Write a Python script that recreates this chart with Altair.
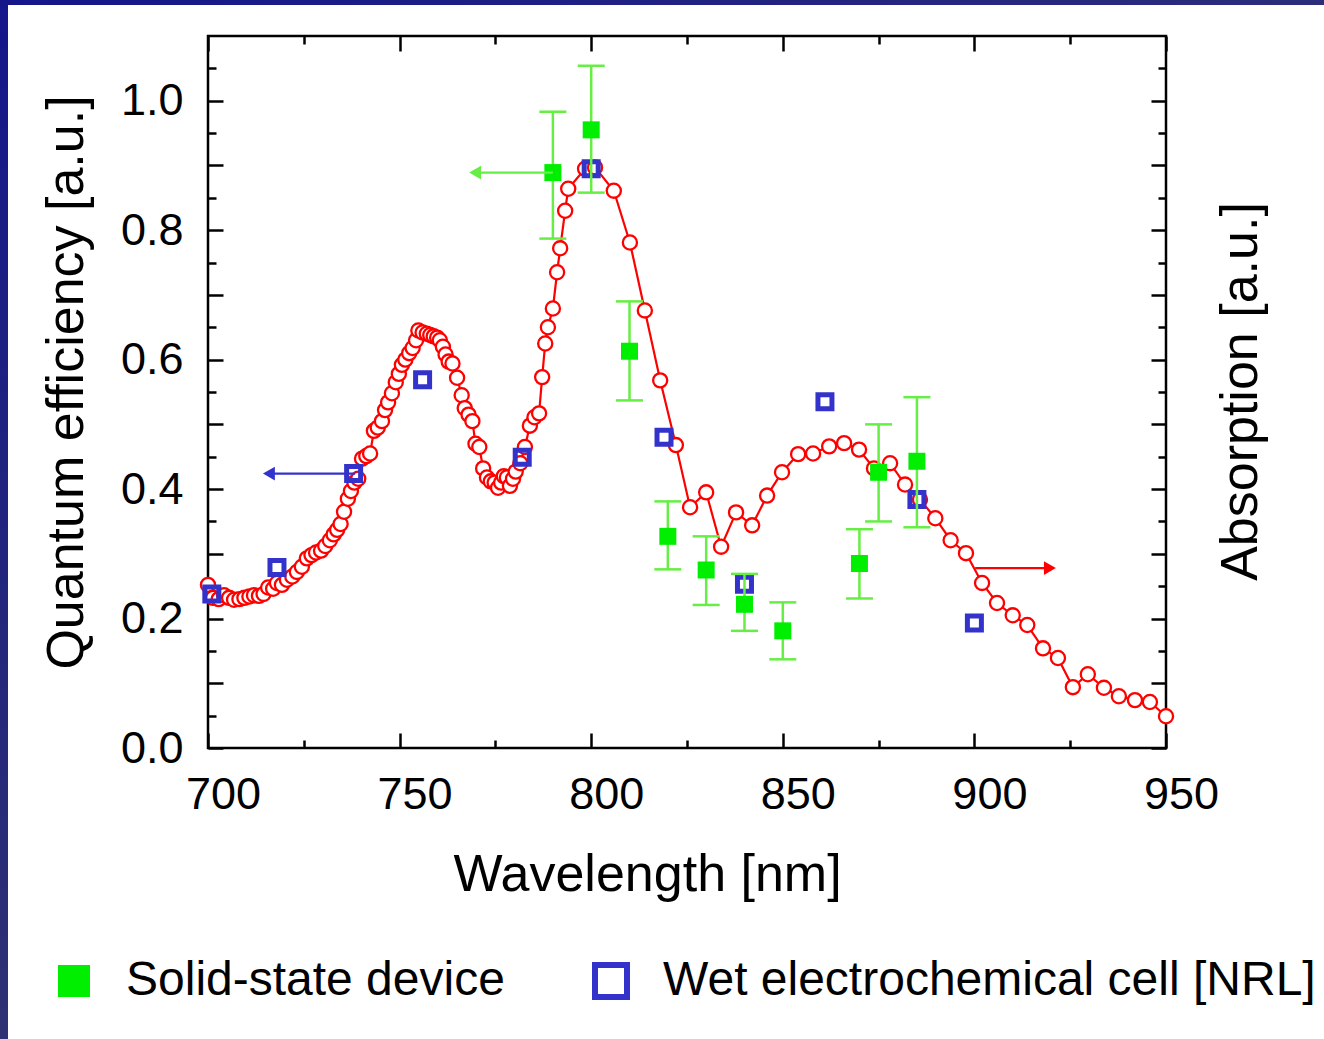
import altair as alt
import pandas as pd

# ---- absorption spectrum (right axis, arbitrary units) ----
abs_nm = [700.0, 701.3, 702.8, 704.2, 705.5, 706.8, 708.2, 709.5, 710.8, 712.0,
          713.3, 714.5, 715.7, 717.0, 718.0, 719.3, 720.6, 722.0, 723.2, 724.5,
          725.8, 727.0, 728.2, 729.5, 730.6, 731.8, 732.8, 733.7, 734.6, 735.5,
          736.5, 737.3, 738.2, 739.2, 740.2, 741.3, 742.3, 743.3, 744.3, 745.4,
          746.2, 747.0, 748.0, 749.0, 749.8, 750.6, 751.5, 752.5, 753.4, 754.3,
          754.9, 756.0, 757.1, 758.0, 758.9, 759.8, 760.5, 761.3, 762.0, 762.8,
          763.8, 765.0, 766.2, 767.0, 768.0, 769.0, 769.8, 770.8, 771.8, 772.8,
          773.8, 774.8, 775.7, 776.5, 777.2, 778.0, 778.8, 779.6, 780.3, 781.5,
          782.7, 784.0, 785.2, 786.4, 787.2, 788.0, 788.7, 790.0, 791.1, 791.9,
          793.2, 794.0, 798.4, 801.0, 805.9, 810.1, 814.0, 818.0, 822.1, 825.8,
          830.0, 833.9, 837.8, 842.0, 845.9, 849.8, 854.0, 857.9, 862.1, 866.0,
          869.9, 873.8, 878.0, 881.9, 885.8, 889.8, 893.8, 897.8, 902.0, 905.9,
          910.0, 913.8, 917.9, 921.8, 925.7, 929.6, 933.8, 937.7, 941.9, 945.8,
          950.0]
abs_val = [0.252, 0.232, 0.230, 0.236, 0.232, 0.229, 0.230, 0.232, 0.234, 0.236,
           0.235, 0.238, 0.248, 0.246, 0.255, 0.252, 0.260, 0.265, 0.272, 0.280,
           0.293, 0.298, 0.302, 0.305, 0.312, 0.321, 0.330, 0.337, 0.346, 0.365,
           0.385, 0.397, 0.410, 0.416, 0.447, 0.451, 0.455, 0.490, 0.495, 0.505,
           0.522, 0.534, 0.548, 0.565, 0.578, 0.592, 0.600, 0.610, 0.618, 0.630,
           0.645, 0.642, 0.640, 0.638, 0.636, 0.634, 0.630, 0.620, 0.608, 0.597,
           0.594, 0.572, 0.545, 0.525, 0.515, 0.505, 0.470, 0.465, 0.432, 0.418,
           0.412, 0.410, 0.402, 0.410, 0.420, 0.418, 0.405, 0.416, 0.427, 0.440,
           0.465, 0.498, 0.511, 0.517, 0.573, 0.625, 0.650, 0.679, 0.735, 0.772,
           0.830, 0.864, 0.895, 0.897, 0.861, 0.781, 0.676, 0.568, 0.468, 0.372,
           0.395, 0.311, 0.364, 0.344, 0.390, 0.426, 0.454, 0.455, 0.466, 0.471,
           0.461, 0.432, 0.440, 0.407, 0.384, 0.355, 0.321, 0.301, 0.255, 0.224,
           0.205, 0.190, 0.154, 0.139, 0.094, 0.114, 0.093, 0.080, 0.074, 0.071,
           0.049]

# ---- solid-state device quantum efficiency with error bars ----
ss_nm = [790, 800, 810, 820, 830, 840, 850, 870, 875, 885]
ss_qe = [0.889, 0.955, 0.613, 0.327, 0.275, 0.222, 0.181, 0.285, 0.426, 0.443]
ss_lo = [0.787, 0.858, 0.537, 0.276, 0.221, 0.181, 0.137, 0.231, 0.350, 0.341]
ss_hi = [0.983, 1.054, 0.690, 0.381, 0.327, 0.269, 0.225, 0.338, 0.500, 0.542]

# ---- wet electrochemical cell quantum efficiency ----
wet_nm = [701, 718, 738, 756, 782, 800, 819, 840, 861, 885, 900]
wet_qe = [0.238, 0.279, 0.424, 0.569, 0.449, 0.895, 0.480, 0.253, 0.535, 0.384, 0.193]

# ---- arrows pointing each series to its axis ----
arrow_from = [790.0, 738.4, 900.2]
arrow_to = [769.7, 715.9, 919.7]
arrow_y = [0.889, 0.424, 0.278]
arrow_color = ["#66ee44", "#3333cc", "#ff0000"]
arrow_head = ["triangle-left", "triangle-left", "triangle-right"]

series_names = ["Solid-state device", "Wet electrochemical cell [NRL]"]

# axis ticks and labels
x_labels = [700, 750, 800, 850, 900, 950]
x_minor = [725, 775, 825, 875, 925]
y_labels = [0.0, 0.2, 0.4, 0.6, 0.8, 1.0]
y_major = [0.0, 0.1, 0.2, 0.3, 0.4, 0.5, 0.6, 0.7, 0.8, 0.9, 1.0]
y_minor = [0.05, 0.15, 0.25, 0.35, 0.45, 0.55, 0.65, 0.75, 0.85, 0.95, 1.05]

GREEN = "#00ee00"
BAR_GREEN = "#66ee44"
BLUE = "#3333cc"
RED = "#ff0000"
FONT = "Liberation Sans"

W, H = 958, 712
xs = alt.Scale(domain=[700, 950], nice=False, zero=False)
ys = alt.Scale(domain=[0, 1.1], nice=False, zero=False)

absorb = pd.DataFrame({"nm": abs_nm, "val": abs_val})
solid = pd.DataFrame({"nm": ss_nm, "val": ss_qe, "lo": ss_lo, "hi": ss_hi,
                      "series": series_names[0]})
wet = pd.DataFrame({"nm": wet_nm, "val": wet_qe, "series": series_names[1]})
arrows = pd.DataFrame({"x0": arrow_from, "x1": arrow_to, "y": arrow_y,
                       "color": arrow_color, "head": arrow_head})

fill_scale = alt.Scale(domain=series_names, range=[GREEN, "transparent"])
stroke_scale = alt.Scale(domain=series_names, range=["transparent", BLUE])
series_legend = alt.Legend(
    orient="none", legendX=-158, legendY=921, direction="horizontal",
    title=None, labelFont=FONT, labelFontSize=48, labelColor="black",
    labelLimit=0, labelOffset=28, symbolType="square", symbolSize=1024,
    symbolStrokeWidth=6, symbolOpacity=1, columnPadding=78,
)


def tick_axis(orient, values, length):
    return alt.Axis(orient=orient, values=values, offset=-length,
                    tickSize=length, tickWidth=2.5, tickColor="black",
                    labels=False, domain=False, grid=False, title=None)


def tick_layer(x_axis, y_axis):
    return alt.Chart(absorb).mark_point(opacity=0).encode(
        x=alt.X("nm:Q", scale=xs, axis=x_axis),
        y=alt.Y("val:Q", scale=ys, axis=y_axis),
    )


frame_df = pd.DataFrame({"k": [0]})
left_band = alt.Chart(frame_df).mark_rect(
    fill=alt.LinearGradient(
        gradient="linear", x1=0, x2=0, y1=0, y2=1,
        stops=[alt.GradientStop(color="#14168a", offset=0),
               alt.GradientStop(color="#2e3172", offset=1)])
).encode(x=alt.value(-208), x2=alt.value(-200), y=alt.value(-36), y2=alt.value(1003))
top_band = alt.Chart(frame_df).mark_rect(
    fill=alt.LinearGradient(
        gradient="linear", x1=0, x2=1, y1=0, y2=0,
        stops=[alt.GradientStop(color="#14168a", offset=0),
               alt.GradientStop(color="#2c2d7a", offset=1)])
).encode(x=alt.value(-208), x2=alt.value(1116), y=alt.value(-36), y2=alt.value(-31))

line = alt.Chart(absorb).mark_line(color=RED, strokeWidth=2.2).encode(
    x=alt.X("nm:Q", scale=xs, axis=alt.Axis(
        orient="bottom", values=x_labels, ticks=False, domain=False, grid=False,
        labelFont=FONT, labelFontSize=45, labelColor="black", labelPadding=24,
        labelOffset=15, labelFlush=False, labelOverlap=False,
        title="Wavelength [nm]", titleFont=FONT, titleFontSize=52,
        titleFontWeight="normal", titleColor="black", titleX=439, titleY=126,
        titleBaseline="middle")),
    y=alt.Y("val:Q", scale=ys, axis=alt.Axis(
        orient="left", values=y_labels, format=".1f", ticks=False, domain=False,
        grid=False, labelFont=FONT, labelFontSize=45, labelColor="black",
        labelPadding=25, labelFlush=False, labelOverlap=False,
        title="Quantum efficiency [a.u.]", titleFont=FONT,
        titleFontSize=52, titleFontWeight="normal", titleColor="black",
        titleAngle=270, titleX=-142, titleY=346, titleBaseline="middle")),
    order="nm:Q",
)

circles = alt.Chart(absorb).mark_point(
    shape="circle", filled=True, fill="white", stroke=RED, strokeWidth=2.3,
    size=200, opacity=1
).encode(
    x=alt.X("nm:Q", scale=xs, axis=None),
    y=alt.Y("val:Q", scale=ys, axis=alt.Axis(
        orient="right", ticks=False, labels=False, domain=False, grid=False,
        title="Absorption [a.u.]", titleFont=FONT, titleFontSize=52,
        titleFontWeight="normal", titleColor="black", titleAngle=270,
        titleX=74, titleY=355, titleBaseline="middle")),
)

wet_pts = alt.Chart(wet).mark_point(
    shape="square", filled=True, size=196, strokeWidth=5, opacity=1
).encode(
    x=alt.X("nm:Q", scale=xs, axis=None),
    y=alt.Y("val:Q", scale=ys, axis=None),
    fill=alt.Fill("series:N", scale=fill_scale, legend=series_legend),
    stroke=alt.Stroke("series:N", scale=stroke_scale, legend=series_legend),
)

err_rule = alt.Chart(solid).mark_rule(color=BAR_GREEN, strokeWidth=2.5).encode(
    x=alt.X("nm:Q", scale=xs, axis=None),
    y=alt.Y("lo:Q", scale=ys, axis=None),
    y2="hi:Q",
)
err_caps = alt.Chart(solid).transform_fold(["lo", "hi"], as_=["end", "v"]).mark_tick(
    orient="horizontal", size=27, thickness=2.5, color=BAR_GREEN, opacity=1
).encode(
    x=alt.X("nm:Q", scale=xs, axis=None),
    y=alt.Y("v:Q", scale=ys, axis=None),
)

solid_pts = alt.Chart(solid).mark_point(
    shape="square", filled=True, size=289, strokeWidth=5, opacity=1
).encode(
    x=alt.X("nm:Q", scale=xs, axis=None),
    y=alt.Y("val:Q", scale=ys, axis=None),
    fill=alt.Fill("series:N", scale=fill_scale, legend=series_legend),
    stroke=alt.Stroke("series:N", scale=stroke_scale, legend=series_legend),
)

shafts = alt.Chart(arrows).mark_rule(strokeWidth=2.2).encode(
    x=alt.X("x0:Q", scale=xs, axis=None),
    x2="x1:Q",
    y=alt.Y("y:Q", scale=ys, axis=None),
    color=alt.Color("color:N", scale=None),
)
heads = alt.Chart(arrows).mark_point(filled=True, size=190, opacity=1).encode(
    x=alt.X("x1:Q", scale=xs, axis=None),
    y=alt.Y("y:Q", scale=ys, axis=None),
    color=alt.Color("color:N", scale=None),
    shape=alt.Shape("head:N", scale=None),
)

ticks = [
    tick_layer(tick_axis("bottom", x_labels, 15), tick_axis("left", y_major, 15)),
    tick_layer(tick_axis("bottom", x_minor, 8), tick_axis("left", y_minor, 8)),
    tick_layer(tick_axis("top", x_labels, 15), tick_axis("right", y_major, 15)),
    tick_layer(tick_axis("top", x_minor, 8), tick_axis("right", y_minor, 8)),
]

chart = alt.layer(
    left_band, top_band, line, circles, wet_pts, err_rule, err_caps, solid_pts,
    shafts, heads, *ticks
).resolve_axis(
    x="independent", y="independent"
).properties(
    width=W, height=H,
    autosize=alt.AutoSizeParams(type="none"),
    padding={"left": 208, "top": 36, "right": 158, "bottom": 291},
    background="white",
).configure_view(
    stroke="black", strokeWidth=2.5
)

chart.save("out.html", embed_options={"renderer": "svg", "actions": False})
